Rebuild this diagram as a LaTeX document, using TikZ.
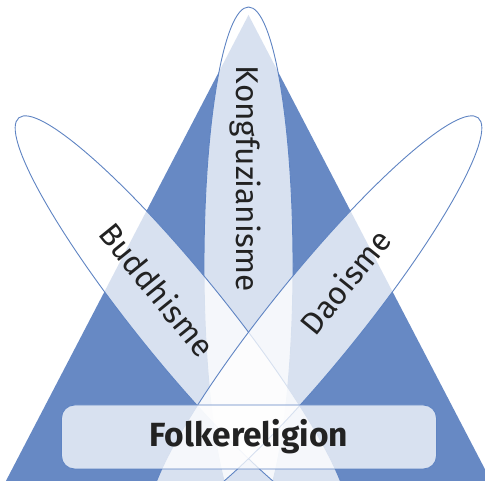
\documentclass[tikz,border=0pt]{standalone}
\usepackage{fontspec}
\setmainfont{Fira Sans}
\definecolor{triblue}{HTML}{6789C4}
\definecolor{lineblue}{HTML}{5F84C3}
\definecolor{txtgray}{HTML}{222222}
\begin{document}
\begin{tikzpicture}[x=1pt,y=1pt,
  ell/.style={fill=white, fill opacity=0.75, draw=lineblue, line width=0.9pt},
  lbl/.style={text=txtgray, font=\fontsize{31.5}{36}\selectfont, inner sep=0pt},
  folkbox/.style={fill=white, fill opacity=0.75, text opacity=1, draw=lineblue, line width=0.9pt,
    rounded corners=13pt, minimum width=375pt, minimum height=64pt, text=txtgray,
    font=\fontsize{33.5}{36}\selectfont\bfseries, inner sep=0pt},
]
\useasboundingbox (0,0) rectangle (485,481);
\clip (0,0) rectangle (485,481);
\fill[triblue] (248.5,466) -- (493.7,-5) -- (3.3,-5) -- cycle;
\draw[ell] (248.5,216) ellipse [x radius=44.5, y radius=258];
\draw[ell, rotate around={39:(181.2,162.7)}] (181.2,162.7) ellipse [x radius=44.5, y radius=258];
\draw[ell, rotate around={-39:(315.8,162.7)}] (315.8,162.7) ellipse [x radius=44.5, y radius=258];
\node[folkbox] (folk) at (249,44) {Folkereligion};
\node[lbl, rotate=-90] (kong) at (245,302) {Kongfuzianisme};
\node[lbl, rotate=-51] (budd) at (157.5,191.5) {Buddhisme};
\node[lbl, rotate=51] (dao) at (345,199.5) {Daoisme};
\end{tikzpicture}
\end{document}
